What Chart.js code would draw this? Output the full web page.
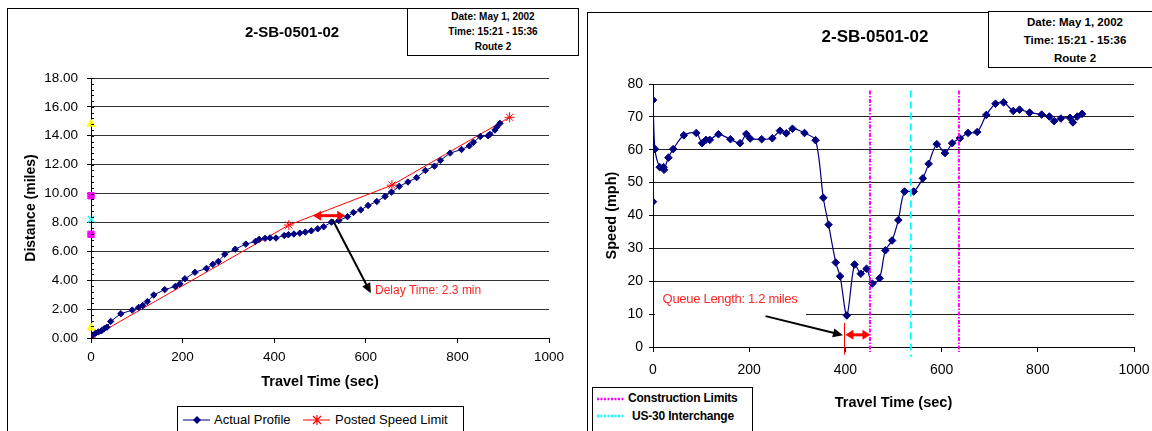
<!DOCTYPE html>
<html>
<head>
<meta charset="utf-8">
<script src="https://cdn.jsdelivr.net/npm/chart.js@4.4.1/dist/chart.umd.min.js"></script>
<style>
  html, body { margin: 0; padding: 0; background: #fff; }
  body { width: 1152px; height: 431px; position: relative; overflow: hidden; font-family: "Liberation Sans", Arial, sans-serif; color: #000; }
  .frame { position: absolute; border-left: 1px solid #000; border-top: 1px solid #000; }
  .info { position: absolute; border: 1px solid #000; background: #fff; text-align: center; font-weight: bold; box-sizing: border-box; }
  .title { position: absolute; text-align: center; font-weight: bold; }
  .legend { position: absolute; border: 1px solid #000; background: #fff; box-sizing: border-box; }
  .legend svg, .legend span { position: absolute; white-space: nowrap; }
  canvas { position: absolute; top: 0; }
</style>
</head>
<body>

<div class="frame" style="left:7px; top:8px; width:400px; height:500px;"></div>
<div class="frame" style="left:587px; top:12px; width:700px; height:500px;"></div>

<canvas id="distChart" width="580" height="431" style="left:0;"></canvas>
<canvas id="speedChart" width="572" height="431" style="left:580px;"></canvas>

<div class="title" style="left:192px; top:23px; width:200px; font-size:15px; line-height:18px;">2-SB-0501-02</div>
<div class="info" style="left:407px; top:8px; width:172px; height:48px; font-size:10px; line-height:15px;">
  Date: May 1, 2002<br>Time: 15:21 - 15:36<br>Route 2
</div>

<div class="title" style="left:775px; top:27px; width:200px; font-size:17px; line-height:20px;">2-SB-0501-02</div>
<div class="info" style="left:988px; top:11px; width:174px; height:57px; font-size:11.5px; line-height:18px; padding-top:1px;">
  Date: May 1, 2002<br>Time: 15:21 - 15:36<br>Route 2
</div>

<!-- legend for the distance chart -->
<div class="legend" style="left:177px; top:406px; width:287px; height:40px; font-size:13px;">
  <svg style="left:5px; top:6px;" width="28" height="14">
    <line x1="0" y1="7" x2="27" y2="7" stroke="#000080" stroke-width="1"/>
    <polygon points="14,3 18,7 14,11 10,7" fill="#000080"/>
  </svg>
  <span style="left:36px; top:5px;">Actual Profile</span>
  <svg style="left:125px; top:6px;" width="28" height="14">
    <line x1="0" y1="7" x2="27" y2="7" stroke="#ff0000" stroke-width="1"/>
    <path d="M10,3 L18,11 M18,3 L10,11 M14,2 L14,12" stroke="#ff0000" stroke-width="1.2"/>
  </svg>
  <span style="left:157px; top:5px;">Posted Speed Limit</span>
</div>

<!-- legend for the speed chart -->
<div class="legend" style="left:592px; top:387px; width:161px; height:50px; font-size:12px; font-weight:bold; letter-spacing:-0.2px;">
  <svg style="left:4px; top:6px;" width="28" height="10">
    <line x1="0" y1="5" x2="27" y2="5" stroke="#ff00ff" stroke-width="2.5" stroke-dasharray="2,1.5"/>
  </svg>
  <span style="left:35px; top:3px;">Construction Limits</span>
  <svg style="left:4px; top:23px;" width="28" height="10">
    <line x1="0" y1="5" x2="27" y2="5" stroke="#00ffff" stroke-width="2.5" stroke-dasharray="2,1.5"/>
  </svg>
  <span style="left:39px; top:21px;">US-30 Interchange</span>
</div>

<script>
// ---- distance / travel time profile ----
const profileTime = [0, 3, 10, 16, 23, 29, 35, 43, 65, 90, 104, 113, 123, 137, 161, 184, 194, 205, 227, 252,
  266, 278, 292, 315, 338, 359, 367, 380, 391, 404, 422, 431, 443, 456, 468, 481, 495, 508, 525, 541,
  560, 573, 589, 605, 624, 642, 656, 673, 692, 711, 730, 750, 763, 784, 809, 826, 835, 850, 867, 871,
  882, 886, 893];
const profileDist = [0.07, 0.2, 0.33, 0.42, 0.5, 0.65, 0.75, 1.15, 1.68, 1.93, 2.12, 2.25, 2.52, 2.98, 3.35, 3.57, 3.75, 4.1, 4.55, 4.82,
  5.1, 5.3, 5.8, 6.15, 6.5, 6.68, 6.83, 6.9, 6.93, 6.92, 7.1, 7.15, 7.2, 7.26, 7.33, 7.42, 7.56, 7.7, 8.02, 8.13,
  8.4, 8.69, 8.87, 9.17, 9.45, 9.8, 10.1, 10.5, 10.8, 11.1, 11.6, 11.9, 12.3, 12.8, 13.05, 13.3, 13.55, 13.95, 14.0, 14.1,
  14.4, 14.6, 14.86];

const limitTime = [0, 432, 657, 914];
const limitDist = [0, 7.82, 10.58, 15.28];

// landmarks marked on the distance axis
const yellowMarks = [14.82, 0.71];
const magentaMarks = [9.85, 7.18];
const cyanMarks = [8.22];

const distTicks = [0, 2, 4, 6, 8, 10, 12, 14, 16, 18];

// delay annotation (time, miles)
const delaySpan = [485, 555, 8.47];
const delayArrowFrom = [527, 8.22];
const delayArrowTo = [611, 3.1];
const delayLabelAt = [620, 3.25];
const delayLabel = "Delay Time: 2.3 min";

// ---- speed / travel time ----
const speedTime = [0, 0, 4, 14, 22, 23, 32, 42, 64, 90, 102, 110, 118, 136, 161, 181, 194, 202, 226, 248,
  264, 277, 290, 315, 338, 354, 365, 380, 389, 403, 419, 432, 444, 456, 471, 483, 497, 510, 523, 542,
  561, 573, 590, 607, 622, 638, 655, 674, 693, 712, 729, 749, 762, 783, 808, 824, 834, 848, 867, 873,
  882, 892];
const speedMph = [44.2, 75.1, 60.2, 54.7, 54.7, 53.9, 57.6, 60.2, 64.4, 65.1, 62.0, 63.0, 63.0, 64.7, 63.2, 62.0, 64.8, 63.4, 63.2, 63.5,
  65.8, 65.0, 66.4, 65.1, 62.9, 45.4, 37.2, 25.7, 21.5, 9.6, 25.1, 22.3, 23.8, 19.3, 20.9, 29.4, 32.4, 38.6, 47.3, 47.3,
  51.3, 55.7, 61.7, 59.0, 62.0, 63.5, 65.1, 65.4, 70.6, 74.0, 74.4, 71.8, 72.2, 71.3, 70.7, 70.1, 68.7, 69.5, 69.7, 68.3,
  70.1, 70.9];

const constructionTimes = [451, 636];
const constructionSpan = [78, -1.5];
const interchangeTime = 536;
const interchangeSpan = [78, -3];

// queue annotation (time, mph)
const queueStart = 398;
const queueStartSpan = [7.3, -2.3];
const queueSpan = [400, 452, 3.7];
const queueArrowFrom = [234, 9.4];
const queueArrowTo = [395, 3.6];
const queueLabelAt = [20, 14.6];
const queueLabel = "Queue Length: 1.2 miles";
const queueMask = [4, 318, 18.3, 9];

const pts = (xs, ys) => xs.map((x, i) => ({ x: x, y: ys[i] }));

function arrowHead(ctx, x1, y1, x2, y2, len, half) {
  const a = Math.atan2(y2 - y1, x2 - x1);
  const bx = x2 - len * Math.cos(a), by = y2 - len * Math.sin(a);
  ctx.beginPath();
  ctx.moveTo(x2, y2);
  ctx.lineTo(bx + half * Math.sin(a), by - half * Math.cos(a));
  ctx.lineTo(bx - half * Math.sin(a), by + half * Math.cos(a));
  ctx.closePath();
  ctx.fill();
}

function drawArrow(ctx, p1, p2, color, width, len, half, both) {
  const a = Math.atan2(p2[1] - p1[1], p2[0] - p1[0]);
  const back = len * 0.7;
  ctx.save();
  ctx.strokeStyle = color;
  ctx.fillStyle = color;
  ctx.lineWidth = width;
  ctx.beginPath();
  ctx.moveTo(both ? p1[0] + back * Math.cos(a) : p1[0], both ? p1[1] + back * Math.sin(a) : p1[1]);
  ctx.lineTo(p2[0] - back * Math.cos(a), p2[1] - back * Math.sin(a));
  ctx.stroke();
  arrowHead(ctx, p1[0], p1[1], p2[0], p2[1], len, half);
  if (both) arrowHead(ctx, p2[0], p2[1], p1[0], p1[1], len, half);
  ctx.restore();
}

// small inside ticks between the labelled distances
const minorTicks = {
  id: "minorTicks",
  afterDraw(chart) {
    const { ctx, chartArea, scales: { y } } = chart;
    ctx.save();
    ctx.strokeStyle = "#000";
    ctx.lineWidth = 1;
    ctx.beginPath();
    for (let v = 0; v <= 18.001; v += 0.4) {
      const py = Math.round(y.getPixelForValue(v)) + 0.5;
      ctx.moveTo(chartArea.left, py);
      ctx.lineTo(chartArea.left + 3, py);
    }
    ctx.stroke();
    ctx.restore();
  }
};

const delayNote = {
  id: "delayNote",
  afterDatasetsDraw(chart) {
    const { ctx, scales: { x, y } } = chart;
    const px = v => x.getPixelForValue(v), py = v => y.getPixelForValue(v);
    drawArrow(ctx, [px(delaySpan[0]), py(delaySpan[2])], [px(delaySpan[1]), py(delaySpan[2])], "#ff0000", 3, 8, 5, true);
    drawArrow(ctx, [px(delayArrowFrom[0]), py(delayArrowFrom[1])], [px(delayArrowTo[0]), py(delayArrowTo[1])], "#000", 2, 10, 4.5, false);
    ctx.save();
    ctx.font = '12px "Liberation Sans", Arial, sans-serif';
    ctx.fillStyle = "#ff2626";
    ctx.textBaseline = "middle";
    ctx.fillText(delayLabel, px(delayLabelAt[0]), py(delayLabelAt[1]));
    ctx.restore();
  }
};

const queueNote = {
  id: "queueNote",
  beforeDatasetsDraw(chart) {
    // the label box hides part of the 10 mph gridline
    const { ctx, scales: { x, y } } = chart;
    const l = x.getPixelForValue(queueMask[0]), r = x.getPixelForValue(queueMask[1]);
    const t = y.getPixelForValue(queueMask[2]), b = y.getPixelForValue(queueMask[3]);
    ctx.save();
    ctx.fillStyle = "#fff";
    ctx.fillRect(l, t, r - l, b - t);
    ctx.restore();
  },
  afterDatasetsDraw(chart) {
    const { ctx, scales: { x, y } } = chart;
    const px = v => x.getPixelForValue(v), py = v => y.getPixelForValue(v);
    ctx.save();
    ctx.strokeStyle = "#ff0000";
    ctx.lineWidth = 1;
    ctx.beginPath();
    const qx = Math.round(px(queueStart)) + 0.5;
    ctx.moveTo(qx, py(queueStartSpan[0]));
    ctx.lineTo(qx, py(queueStartSpan[1]));
    ctx.stroke();
    ctx.restore();
    drawArrow(ctx, [px(queueSpan[0]), py(queueSpan[2])], [px(queueSpan[1]), py(queueSpan[2])], "#ff0000", 3, 8, 5, true);
    drawArrow(ctx, [px(queueArrowFrom[0]), py(queueArrowFrom[1])], [px(queueArrowTo[0]), py(queueArrowTo[1])], "#000", 2, 10, 4.5, false);
    ctx.save();
    ctx.font = '13px "Liberation Sans", Arial, sans-serif';
    ctx.letterSpacing = "-0.3px";
    ctx.fillStyle = "#ff2626";
    ctx.textBaseline = "middle";
    ctx.fillText(queueLabel, px(queueLabelAt[0]), py(queueLabelAt[1]));
    ctx.restore();
  }
};

const baseFont = '"Liberation Sans", Arial, sans-serif';
const plainNumber = v => String(v);

// keep the plot edges where the layout padding puts them
const fixHeight = h => s => { s.height = h; s.paddingLeft = 0; s.paddingRight = 0; };
const fixWidth = w => s => { s.width = w; s.paddingTop = 0; s.paddingBottom = 0; };

new Chart(document.getElementById("distChart"), {
  type: "scatter",
  data: {
    datasets: [
      {
        label: "Actual Profile",
        data: pts(profileTime, profileDist),
        showLine: true,
        borderColor: "#000080",
        backgroundColor: "#000080",
        borderWidth: 1,
        pointStyle: "rectRot",
        pointRadius: 3.2,
        pointBorderWidth: 1
      },
      {
        label: "Posted Speed Limit",
        data: pts(limitTime, limitDist),
        showLine: true,
        borderColor: "#ff0000",
        backgroundColor: "#ff0000",
        borderWidth: 1,
        pointStyle: "star",
        pointRadius: 5,
        pointBorderWidth: 1
      },
      {
        data: yellowMarks.map(v => ({ x: 0, y: v })),
        pointStyle: "triangle",
        pointRadius: 4.5,
        borderColor: "#ffff00",
        backgroundColor: "#ffff00",
        clip: false
      },
      {
        data: magentaMarks.map(v => ({ x: 0, y: v })),
        pointStyle: "rect",
        pointRadius: 4.5,
        borderColor: "#ff00ff",
        backgroundColor: "#ff00ff",
        clip: false
      },
      {
        data: cyanMarks.map(v => ({ x: 0, y: v })),
        pointStyle: "crossRot",
        pointRadius: 4.5,
        pointBorderWidth: 1.5,
        borderColor: "#00ffff",
        backgroundColor: "#00ffff",
        clip: false
      }
    ]
  },
  options: {
    responsive: false,
    animation: false,
    events: [],
    layout: { padding: { left: 19, top: 78, right: 31, bottom: 36 } },
    plugins: { legend: { display: false }, tooltip: { enabled: false } },
    scales: {
      x: {
        type: "linear",
        min: 0,
        max: 1000,
        ticks: { stepSize: 200, padding: 6, color: "#000", maxRotation: 0, callback: plainNumber, font: { family: baseFont, size: 13.5 } },
        grid: { drawOnChartArea: false, tickLength: 5, color: "#000" },
        border: { color: "#000" },
        title: { display: true, text: "Travel Time (sec)", color: "#000", font: { family: baseFont, size: 14.5, weight: "bold" } },
        afterFit: fixHeight(57)
      },
      y: {
        min: 0,
        max: 18,
        afterBuildTicks: s => { s.ticks = distTicks.map(v => ({ value: v })); },
        ticks: { padding: 9, color: "#000", callback: v => v.toFixed(2), font: { family: baseFont, size: 13.5 } },
        grid: { color: "#333", tickColor: "#000", tickLength: 4 },
        border: { color: "#000" },
        title: { display: true, text: "Distance (miles)", color: "#000", font: { family: baseFont, size: 14, weight: "bold" } },
        afterFit: fixWidth(72)
      }
    }
  },
  plugins: [minorTicks, delayNote]
});

const vline = (t, span, color, dash) => ({
  data: [{ x: t, y: span[0] }, { x: t, y: span[1] }],
  showLine: true,
  borderColor: color,
  borderWidth: 2,
  borderDash: dash,
  pointRadius: 0,
  clip: false
});

new Chart(document.getElementById("speedChart"), {
  type: "scatter",
  data: {
    datasets: [
      vline(constructionTimes[0], constructionSpan, "#ff00ff", [4, 1.5, 1.5, 1.5]),
      vline(constructionTimes[1], constructionSpan, "#ff00ff", [4, 1.5, 1.5, 1.5]),
      vline(interchangeTime, interchangeSpan, "#00ffff", [7, 4]),
      {
        label: "Speed",
        data: pts(speedTime, speedMph),
        showLine: true,
        tension: 0.3,
        borderColor: "#000080",
        backgroundColor: "#000080",
        borderWidth: 1.2,
        pointStyle: "rectRot",
        pointRadius: 3.8,
        pointBorderWidth: 1
      }
    ]
  },
  options: {
    responsive: false,
    animation: false,
    events: [],
    layout: { padding: { left: 19, top: 84, right: 18, bottom: 15 } },
    plugins: { legend: { display: false }, tooltip: { enabled: false } },
    scales: {
      x: {
        type: "linear",
        min: 0,
        max: 1000,
        ticks: { stepSize: 200, padding: 10, color: "#000", maxRotation: 0, callback: plainNumber, font: { family: baseFont, size: 14 } },
        grid: { drawOnChartArea: false, tickLength: 5, color: "#000" },
        border: { color: "#000" },
        title: { display: true, text: "Travel Time (sec)", color: "#000", font: { family: baseFont, size: 14.5, weight: "bold" } },
        afterFit: fixHeight(69)
      },
      y: {
        min: 0,
        max: 80,
        ticks: { stepSize: 10, padding: 6, color: "#000", font: { family: baseFont, size: 14 } },
        grid: { color: "#222", tickColor: "#000", tickLength: 4 },
        border: { color: "#000" },
        title: { display: true, text: "Speed (mph)", color: "#000", font: { family: baseFont, size: 14.5, weight: "bold" } },
        afterFit: fixWidth(54)
      }
    }
  },
  plugins: [queueNote]
});
</script>
</body>
</html>
